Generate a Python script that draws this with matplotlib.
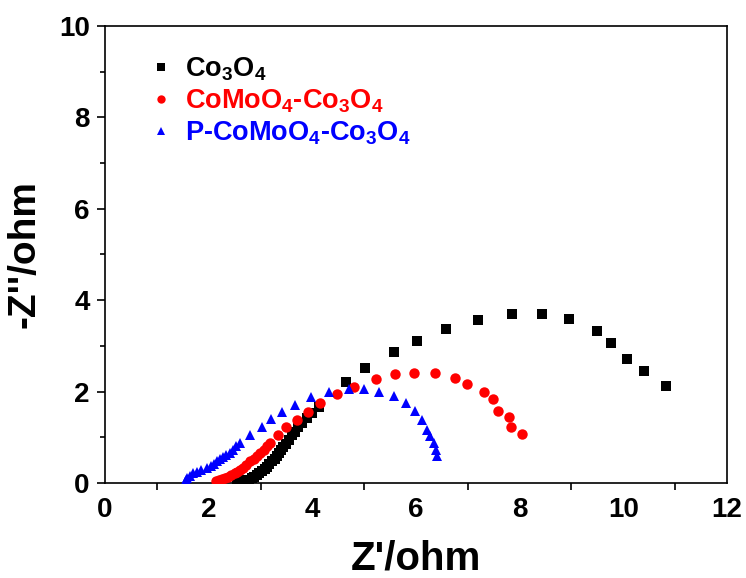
import matplotlib
matplotlib.use('Agg')
import matplotlib.pyplot as plt
from matplotlib.ticker import MultipleLocator

plt.rcParams['font.family'] = ['Liberation Sans', 'DejaVu Sans']
plt.rcParams['font.weight'] = 'bold'
plt.rcParams['mathtext.fontset'] = 'custom'
plt.rcParams['mathtext.rm'] = 'Liberation Sans:bold'
plt.rcParams['mathtext.bf'] = 'Liberation Sans:bold'
plt.rcParams['mathtext.it'] = 'Liberation Sans:bold'
plt.rcParams['mathtext.default'] = 'rm'

# Co3O4
co_x = [2.55, 2.60, 2.66, 2.72, 2.77, 2.83, 2.88, 2.93, 2.98, 3.03, 3.08, 3.12, 3.17,
        3.22, 3.27, 3.31, 3.36, 3.40, 3.44, 3.50, 3.55, 3.60, 3.66, 3.73, 3.80, 3.89,
        4.00, 4.12, 4.65, 5.02, 5.58, 6.01, 6.58, 7.19, 7.85, 8.44, 8.96, 9.50, 9.76,
        10.08, 10.39, 10.82]
co_y = [0.02, 0.03, 0.04, 0.06, 0.07, 0.10, 0.13, 0.18, 0.22, 0.27, 0.31, 0.36, 0.42,
        0.48, 0.53, 0.58, 0.65, 0.72, 0.79, 0.86, 0.93, 1.05, 1.12, 1.23, 1.32, 1.42,
        1.54, 1.67, 2.20, 2.51, 2.86, 3.11, 3.38, 3.56, 3.69, 3.70, 3.58, 3.33, 3.06,
        2.71, 2.45, 2.13]

# CoMoO4-Co3O4
cm_x = [2.15, 2.20, 2.26, 2.32, 2.38, 2.44, 2.50, 2.55, 2.60, 2.66, 2.72, 2.80, 2.87,
        2.93, 2.99, 3.06, 3.12, 3.18, 3.34, 3.50, 3.70, 3.92, 4.15, 4.47, 4.80, 5.23,
        5.60, 5.97, 6.37, 6.75, 6.99, 7.31, 7.49, 7.59, 7.80, 7.83, 8.04]
cm_y = [0.05, 0.07, 0.09, 0.11, 0.14, 0.17, 0.21, 0.25, 0.28, 0.33, 0.39, 0.47, 0.53,
        0.59, 0.65, 0.72, 0.80, 0.87, 1.05, 1.22, 1.38, 1.55, 1.74, 1.94, 2.11, 2.28,
        2.39, 2.41, 2.40, 2.30, 2.16, 2.00, 1.83, 1.58, 1.44, 1.23, 1.07]

# P-CoMoO4-Co3O4
p_x = [1.54, 1.56, 1.58, 1.63, 1.70, 1.78, 1.86, 1.96, 2.04, 2.10, 2.16, 2.22, 2.28,
       2.34, 2.41, 2.47, 2.53, 2.60, 2.80, 3.02, 3.20, 3.42, 3.67, 3.97, 4.32, 4.71,
       5.00, 5.29, 5.58, 5.81, 5.99, 6.11, 6.21, 6.27, 6.35, 6.39, 6.41]
p_y = [0.03, 0.07, 0.10, 0.15, 0.21, 0.25, 0.28, 0.32, 0.37, 0.42, 0.47, 0.52, 0.57,
       0.61, 0.65, 0.72, 0.80, 0.87, 1.05, 1.23, 1.39, 1.55, 1.71, 1.88, 1.98, 2.05,
       2.06, 2.00, 1.90, 1.76, 1.58, 1.38, 1.16, 1.03, 0.87, 0.72, 0.60]

labels = ['Co$_3$O$_4$', 'CoMoO$_4$-Co$_3$O$_4$', 'P-CoMoO$_4$-Co$_3$O$_4$']
colors = ['black', 'red', 'blue']

fig = plt.figure(figsize=(7.46, 5.78), dpi=100)
ax = fig.add_axes([0.1408, 0.1644, 0.8337, 0.7906])

ax.plot(co_x, co_y, 's', color=colors[0], ms=6.5, mew=0, label=labels[0], zorder=3)
ax.plot(cm_x, cm_y, 'o', color=colors[1], ms=7.5, mew=0, label=labels[1], zorder=4)
ax.plot(p_x, p_y, '^', color=colors[2], ms=7.5, mew=0, label=labels[2], zorder=5)

ax.set_xlim(0, 12)
ax.set_ylim(0, 10)
ax.xaxis.set_major_locator(MultipleLocator(2))
ax.xaxis.set_minor_locator(MultipleLocator(1))
ax.yaxis.set_major_locator(MultipleLocator(2))
ax.yaxis.set_minor_locator(MultipleLocator(1))
ax.tick_params(axis='x', which='major', direction='out', length=0, pad=10, labelsize=20)
ax.tick_params(axis='x', which='minor', direction='out', length=5, width=1.2)
ax.tick_params(axis='y', which='major', direction='out', length=6, width=1.2, pad=5, labelsize=20)
ax.tick_params(axis='y', which='minor', direction='out', length=3.5, width=1.2)
ax.xaxis.set_minor_formatter(plt.NullFormatter())
for s in ax.spines.values():
    s.set_linewidth(1.2)

ax.set_xlabel("Z'/ohm", fontsize=29, fontweight='bold', labelpad=12)
ax.set_ylabel("-Z''/ohm", fontsize=28, fontweight='bold', labelpad=12)

leg = ax.legend(loc='upper left', bbox_to_anchor=(0.053, 0.96), frameon=False,
                fontsize=19.5, markerscale=0.8, handlelength=0.9, handletextpad=0.45,
                labelspacing=0.18, borderaxespad=0)
for t, c in zip(leg.get_texts(), colors):
    t.set_color(c)

fig.savefig('out.png', dpi=100)
